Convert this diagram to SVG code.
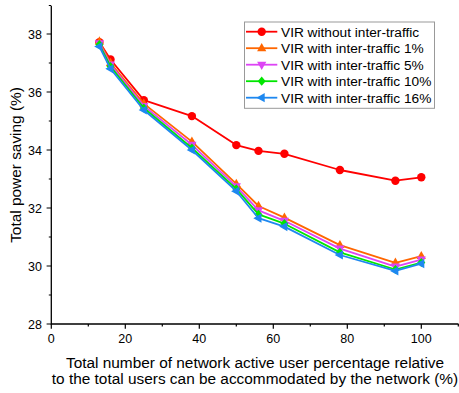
<svg xmlns="http://www.w3.org/2000/svg" width="459" height="393" viewBox="0 0 459 393">
<style>
.ax{stroke:#000;stroke-width:1.3;fill:none}
.tk{stroke:#000;stroke-width:1.2}
.tl{font-family:"Liberation Sans",Arial,sans-serif;font-size:12.5px;fill:#000}
.tt{font-family:"Liberation Sans",Arial,sans-serif;font-size:15.4px;fill:#000}
.lg{font-family:"Liberation Sans",Arial,sans-serif;font-size:13.7px;fill:#000}
.s{fill:none;stroke-width:1.8;stroke-linejoin:round}
.red{stroke:#FF0000;marker-start:url(#mRed);marker-mid:url(#mRed);marker-end:url(#mRed)}
.org{stroke:#FF6600;marker-start:url(#mOrg);marker-mid:url(#mOrg);marker-end:url(#mOrg)}
.pur{stroke:#DD44F5;marker-start:url(#mPur);marker-mid:url(#mPur);marker-end:url(#mPur)}
.grn{stroke:#00E600;marker-start:url(#mGrn);marker-mid:url(#mGrn);marker-end:url(#mGrn)}
.blu{stroke:#1E88F0;marker-start:url(#mBlu);marker-mid:url(#mBlu);marker-end:url(#mBlu)}
#legend .s{marker-start:none;marker-end:none}
</style>
<defs>
<marker id="mRed" markerUnits="userSpaceOnUse" viewBox="-6 -6 12 12" markerWidth="12" markerHeight="12" refX="0" refY="0" orient="0" overflow="visible"><circle r="4.2" fill="#FF0000"/></marker>
<marker id="mOrg" markerUnits="userSpaceOnUse" viewBox="-6 -6 12 12" markerWidth="12" markerHeight="12" refX="0" refY="0" orient="0" overflow="visible"><polygon points="0,-5.2 4.6,3 -4.6,3" fill="#FF6600"/></marker>
<marker id="mPur" markerUnits="userSpaceOnUse" viewBox="-6 -6 12 12" markerWidth="12" markerHeight="12" refX="0" refY="0" orient="0" overflow="visible"><polygon points="0,5.2 4.6,-3 -4.6,-3" fill="#DD44F5"/></marker>
<marker id="mGrn" markerUnits="userSpaceOnUse" viewBox="-6 -6 12 12" markerWidth="12" markerHeight="12" refX="0" refY="0" orient="0" overflow="visible"><polygon points="0,-4.6 4,0 0,4.6 -4,0" fill="#00E600"/></marker>
<marker id="mBlu" markerUnits="userSpaceOnUse" viewBox="-6 -6 12 12" markerWidth="12" markerHeight="12" refX="0" refY="0" orient="0" overflow="visible"><polygon points="-5.2,0 3,-4.6 3,4.6" fill="#1E88F0"/></marker>
</defs>
<rect width="459" height="393" fill="#fff"/>
<g id="axes">
<path class="ax" d="M51.3,6 V324 H458.5"/>
<g class="tk">
<path d="M46.6,34 H51.3 M46.6,92 H51.3 M46.6,150 H51.3 M46.6,208 H51.3 M46.6,266 H51.3 M46.6,324 H51.3"/>
<path d="M48.8,63 H51.3 M48.8,121 H51.3 M48.8,179 H51.3 M48.8,237 H51.3 M48.8,295 H51.3 M48.8,5.5 H51.3"/>
<path d="M51.3,324 V328.7 M125.3,324 V328.7 M199.3,324 V328.7 M273.3,324 V328.7 M347.3,324 V328.7 M421.3,324 V328.7"/>
<path d="M88.3,324 V326.5 M162.3,324 V326.5 M236.3,324 V326.5 M310.3,324 V326.5 M384.3,324 V326.5 M458.3,324 V326.5"/>
</g>
<g class="tl" text-anchor="end">
<text x="42" y="38.5">38</text>
<text x="42" y="96.5">36</text>
<text x="42" y="154.5">34</text>
<text x="42" y="212.5">32</text>
<text x="42" y="270.5">30</text>
<text x="42" y="328.5">28</text>
</g>
<g class="tl" text-anchor="middle">
<text x="51.3" y="343">0</text>
<text x="125.3" y="343">20</text>
<text x="199.3" y="343">40</text>
<text x="273.3" y="343">60</text>
<text x="347.3" y="343">80</text>
<text x="421.3" y="343">100</text>
</g>
<text class="tt" text-anchor="middle" transform="translate(21,165) rotate(-90)">Total power saving (%)</text>
<text class="tt" text-anchor="middle" x="255" y="367.5">Total number of network active user percentage relative</text>
<text class="tt" text-anchor="middle" x="255" y="384">to the total users can be accommodated by the network (%)</text>
</g>
<g id="series">
<polyline id="s-red" class="s red" points="99.4,42.1 110.5,59.5 143.8,100.1 191.9,116.1 236.3,145.1 258.5,150.9 284.4,153.8 339.9,170 395.4,180.7 421.3,177.3"/>
<polyline id="s-org" class="s org" points="99.4,41.5 110.5,63 143.8,103.6 191.9,141.6 236.3,183.9 258.5,206 284.4,217.6 339.9,245.1 395.4,262.8 421.3,256.1"/>
<polyline id="s-pur" class="s pur" points="99.4,43.3 110.5,64.5 143.8,105.9 191.9,144.8 236.3,186.3 258.5,210.3 284.4,220.8 339.9,248.6 395.4,266.6 421.3,259.6"/>
<polyline id="s-grn" class="s grn" points="99.4,44.7 110.5,66.5 143.8,108 191.9,148 236.3,188.9 258.5,214.4 284.4,223.7 339.9,252.4 395.4,269.5 421.3,262.5"/>
<polyline id="s-blu" class="s blu" points="99.4,46.5 110.5,68.8 143.8,110 191.9,150 236.3,191.2 258.5,218.2 284.4,226.6 339.9,255 395.4,270.9 421.3,263.7"/>
</g>
<g id="legend">
<rect x="244.5" y="22" width="190" height="86.3" fill="#fff" stroke="#999" stroke-width="1"/>
<polyline class="s red" points="246,31.7 261.7,31.7 277.3,31.7"/>
<polyline class="s org" points="246,48.2 261.7,48.2 277.3,48.2"/>
<polyline class="s pur" points="246,64.7 261.7,64.7 277.3,64.7"/>
<polyline class="s grn" points="246,81.2 261.7,81.2 277.3,81.2"/>
<polyline class="s blu" points="246,97.7 261.7,97.7 277.3,97.7"/>
<text class="lg" x="281" y="36.5">VIR without inter-traffic</text>
<text class="lg" x="281" y="53">VIR with inter-traffic 1%</text>
<text class="lg" x="281" y="69.5">VIR with inter-traffic 5%</text>
<text class="lg" x="281" y="86">VIR with inter-traffic 10%</text>
<text class="lg" x="281" y="102.5">VIR with inter-traffic 16%</text>
</g>
</svg>
